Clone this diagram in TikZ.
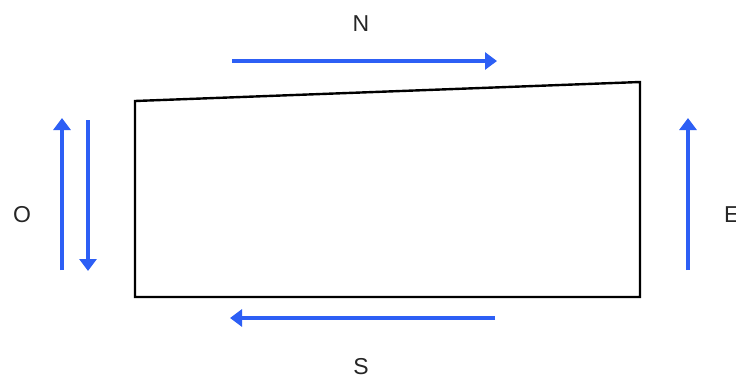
\documentclass[tikz,border=0pt]{standalone}
\usepackage{fontspec}
\setmainfont{Liberation Sans}
\usetikzlibrary{arrows.meta}
\definecolor{arrblue}{RGB}{45,95,245}
\begin{document}
\begin{tikzpicture}[x=1pt,y=-1pt,
  dirarrow/.style={draw=arrblue,line width=4.2pt,-{Triangle[length=12pt,width=17pt]}},
  lbl/.style={font=\fontsize{23}{23}\selectfont,text=black!85,inner sep=0pt},
  edge/.style={draw=black,line width=2.4pt,line join=miter}]
\useasboundingbox (0,0) rectangle (736,376);
\fill[white] (0,0) rectangle (736,376);
% quadrilateral
\coordinate (tl) at (135,101);
\coordinate (tr) at (640,82);
\coordinate (br) at (640,297);
\coordinate (bl) at (135,297);
\draw[edge] (tl) -- (tr) -- (br) -- (bl) -- cycle;
% arrow endpoints
\coordinate (n1) at (232,61); \coordinate (n2) at (497,61);
\coordinate (s1) at (495,318); \coordinate (s2) at (230,318);
\coordinate (o1) at (62,270); \coordinate (o2) at (62,118);
\coordinate (d1) at (88,120); \coordinate (d2) at (88,271);
\coordinate (e1) at (688,270); \coordinate (e2) at (688,118);
\draw[dirarrow] (n1) -- (n2);
\draw[dirarrow] (s1) -- (s2);
\draw[dirarrow] (o1) -- (o2);
\draw[dirarrow] (d1) -- (d2);
\draw[dirarrow] (e1) -- (e2);
% labels
\node[lbl] (N) at (361,24) {N};
\node[lbl,anchor=north] (S) at (361,358) {S};
\node[lbl] (O) at (22,215) {O};
\node[lbl,anchor=west] (E) at (724,215) {E};
\end{tikzpicture}
\end{document}
